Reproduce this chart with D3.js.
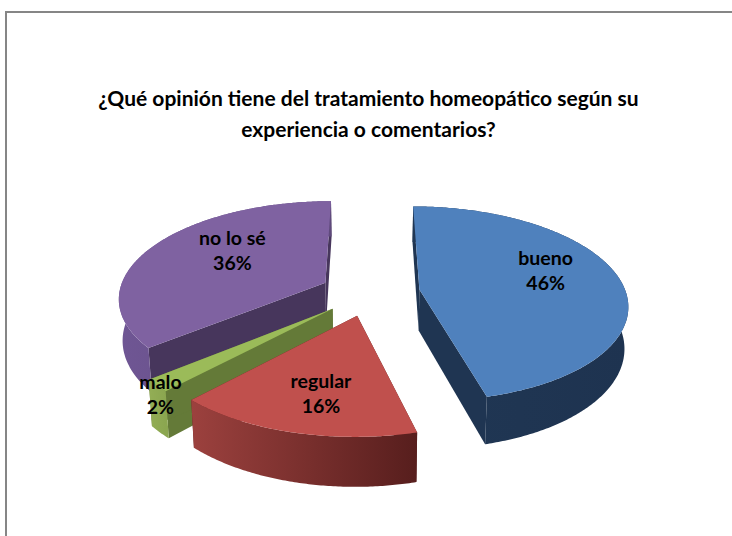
<!DOCTYPE html>
<html><head><meta charset="utf-8">
<script src="https://cdn.jsdelivr.net/npm/d3@7"></script>
<style>html,body{margin:0;padding:0;background:#fff}svg{display:block}text{font-family:Lato,"Open Sans",sans-serif;font-weight:700;fill:#000}</style>
</head><body><div id="c"></div>
<script>
const categories = ["bueno","regular","malo","no lo sé"];
const values = [46,16,2,36];
const percentLabels = ["46%","16%","2%","36%"];
const titleLines = ["¿Qué opinión tiene del tratamiento homeopático según su","experiencia o comentarios?"];
const topColors = ["#4f81bd","#c0504d","#9bbb59","#7f62a1"];
const faceColors = ["#1f3552","#5c2120","#647a38","#47365c"];
const rimFrom = ["#203754","#9c413e","#93ae55","#6f5694"];
const rimTo = ["#1e3350","#571e1d","#8ba650","#5f4a7c"];
const labelAngles = [72.5,192,222.7,305.7];
const labelRadii = [0.67,0.70,1.035,0.605];

const W=732,H=536,cx=370,cy=292.5,R=206.5,ky=0.465,persp=0.145,explode=50,depth=41,bottomShrink=0.985;
const svg=d3.select("#c").append("svg").attr("width",W).attr("height",H);
const defs=svg.append("defs");
svg.append("path").attr("d",`M${W},12H6V${H}`).attr("fill","none").attr("stroke","#868686").attr("stroke-width",2);

const arcs=d3.pie().sort(null).startAngle(0).endAngle(2*Math.PI)(values);
function project(X,Y,low){
  const s=1/(1-persp*Y/R);
  return low?[cx+X*s*bottomShrink,cy+(ky*Y+depth)*s]:[cx+X*s,cy+ky*Y*s];
}
function world(a,r,mid){
  return [explode*Math.sin(mid)+r*Math.sin(a),-explode*Math.cos(mid)-r*Math.cos(a)];
}
const line=d3.line();
const order=[3,2,1,0];
order.forEach(i=>{
  const d=arcs[i],mid=(d.startAngle+d.endAngle)/2;
  const angles=d3.range(d.startAngle,d.endAngle,0.01).concat([d.endAngle]);
  const pt=(a,r,low)=>{const w=world(a,r,mid);return project(w[0],w[1],low);};
  const topEdge=angles.map(a=>pt(a,R,false));
  const lowEdge=angles.map(a=>pt(a,R,true));
  const gid="rim"+i,ext=d3.extent(topEdge,p=>p[0]);
  const g=defs.append("linearGradient").attr("id",gid).attr("gradientUnits","userSpaceOnUse")
    .attr("x1",ext[0]).attr("x2",ext[1]).attr("y1",0).attr("y2",0);
  g.append("stop").attr("offset",0).attr("stop-color",rimFrom[i]);
  g.append("stop").attr("offset",1).attr("stop-color",rimTo[i]);
  const grp=svg.append("g").attr("class","slice");
  [d.startAngle,d.endAngle].forEach(a=>{
    grp.append("path").attr("fill",faceColors[i]).attr("d",line([pt(a,0,false),pt(a,R,false),pt(a,R,true),pt(a,0,true)])+"Z");
  });
  grp.append("path").attr("fill",`url(#${gid})`).attr("d",line(topEdge.concat(lowEdge.slice().reverse()))+"Z");
  grp.append("path").attr("fill",topColors[i]).attr("d",line([pt(0,0,false)].concat(topEdge))+"Z");
});
const title=svg.append("g");
titleLines.forEach((t,i)=>title.append("text").attr("x",368.5).attr("y",106+i*31).attr("text-anchor","middle").attr("font-size",21).text(t));
arcs.forEach((d,i)=>{
  const mid=(d.startAngle+d.endAngle)/2,w=world(labelAngles[i]*Math.PI/180,labelRadii[i]*R,mid),p=project(w[0],w[1],false);
  const t=svg.append("text").attr("text-anchor","middle").attr("font-size",19.5);
  t.append("tspan").attr("x",p[0]).attr("y",p[1]-6).text(categories[i]);
  t.append("tspan").attr("x",p[0]).attr("y",p[1]+19).text(percentLabels[i]);
});
</script></body></html>
